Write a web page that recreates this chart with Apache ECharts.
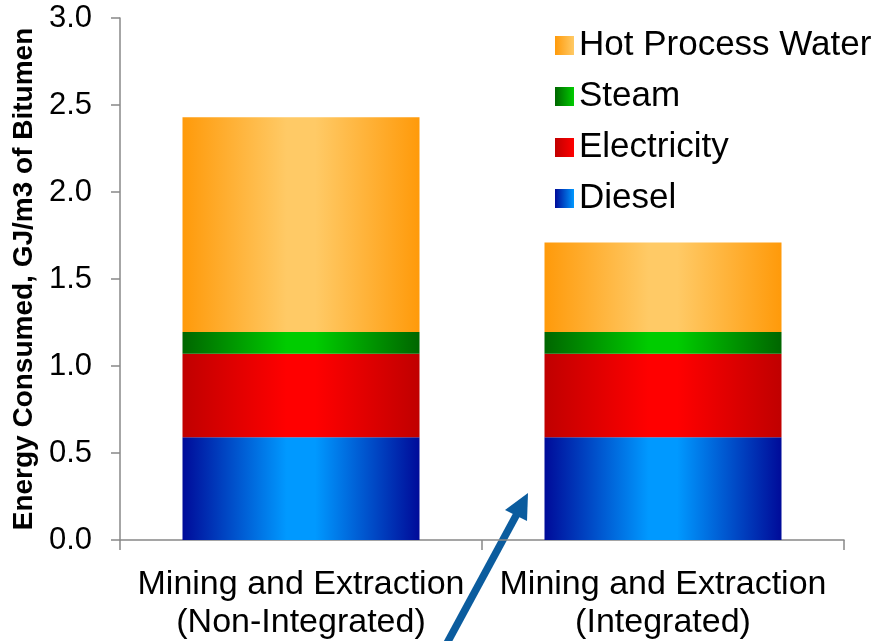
<!DOCTYPE html>
<html>
<head>
<meta charset="utf-8">
<script src="https://cdn.jsdelivr.net/npm/echarts@6/dist/echarts.min.js"></script>
<style>
  html, body { margin: 0; padding: 0; background: #ffffff; }
  #chart { width: 889px; height: 641px; }
</style>
</head>
<body>
<div id="chart"></div>
<script>
// Energy use per m3 of bitumen, by energy source (GJ/m3)
const categories = ['Mining and Extraction\n(Non-Integrated)', 'Mining and Extraction\n(Integrated)'];
const diesel = [0.59, 0.59];
const electricity = [0.48, 0.48];
const steam = [0.125, 0.125];
const hotProcessWater = [1.235, 0.515];
const legendOrder = ['Hot Process Water', 'Steam', 'Electricity', 'Diesel'];
const yTicks = [0, 0.5, 1.0, 1.5, 2.0, 2.5, 3.0];

const FONT = '"Liberation Sans", Arial, sans-serif';

// Cylinder-like shading: dark edges, bright middle
function shade(edge, mid) {
  return new echarts.graphic.LinearGradient(0, 0, 1, 0, [
    { offset: 0, color: edge },
    { offset: 0.44, color: mid },
    { offset: 0.56, color: mid },
    { offset: 1, color: edge }
  ]);
}
function swatch(edge, mid) {
  return new echarts.graphic.LinearGradient(0, 0, 1, 0, [
    { offset: 0, color: edge },
    { offset: 1, color: mid }
  ]);
}

const palette = {
  'Diesel': ['#000b99', '#0099ff'],
  'Electricity': ['#c00000', '#ff0000'],
  'Steam': ['#006600', '#00cc00'],
  'Hot Process Water': ['#ff9a0a', '#ffca66']
};

function barSeries(name, values) {
  return {
    name: name,
    type: 'bar',
    stack: 'energy',
    barWidth: 237,
    data: values,
    itemStyle: { color: shade(palette[name][0], palette[name][1]) },
    emphasis: { disabled: true }
  };
}

const chart = echarts.init(document.getElementById('chart'), null, { renderer: 'canvas' });

chart.setOption({
  animation: false,
  backgroundColor: '#ffffff',
  grid: { left: 120, right: 45, top: 18, bottom: 101, containLabel: false, outerBoundsMode: 'none' },
  legend: {
    orient: 'vertical',
    left: 550,
    top: 23,
    itemWidth: 19,
    itemHeight: 19,
    itemGap: 16,
    textStyle: { fontFamily: FONT, fontSize: 35, lineHeight: 35, color: '#000000', padding: 0 },
    data: legendOrder.map(n => ({
      name: n,
      icon: 'rect',
      itemStyle: { color: swatch(palette[n][0], palette[n][1]) }
    }))
  },
  xAxis: {
    type: 'category',
    data: categories,
    axisLine: { show: true, lineStyle: { color: '#888888', width: 1.5 } },
    axisTick: { show: true, length: 10, lineStyle: { color: '#888888', width: 1.5 } },
    axisLabel: {
      fontFamily: FONT, fontSize: 34, color: '#000000',
      margin: 26, lineHeight: 38, interval: 0
    }
  },
  yAxis: {
    type: 'value',
    min: yTicks[0],
    max: yTicks[yTicks.length - 1],
    interval: 0.5,
    name: 'Energy Consumed, GJ/m3 of Bitumen',
    nameLocation: 'middle',
    nameGap: 78,
    nameTextStyle: { fontFamily: FONT, fontSize: 28, fontWeight: 'bold', color: '#000000' },
    axisLine: { show: true, lineStyle: { color: '#888888', width: 1.5 } },
    axisTick: { show: true, length: 9, lineStyle: { color: '#888888', width: 1.5 } },
    splitLine: { show: false },
    axisLabel: {
      fontFamily: FONT, fontSize: 31, color: '#000000', margin: 28,
      formatter: v => v.toFixed(1)
    }
  },
  series: [
    barSeries('Diesel', diesel),
    barSeries('Electricity', electricity),
    barSeries('Steam', steam),
    barSeries('Hot Process Water', hotProcessWater)
  ],
  // Callout arrow pointing up at the integrated case
  graphic: [
    {
      type: 'line',
      shape: { x1: 446, y1: 645, x2: 518, y2: 512 },
      style: { stroke: '#0b5c9e', lineWidth: 7.5 },
      silent: true
    },
    {
      type: 'polygon',
      shape: { points: [[528, 493], [505, 510], [527, 521]] },
      style: { fill: '#0b5c9e' },
      silent: true
    }
  ]
});
</script>
</body>
</html>
